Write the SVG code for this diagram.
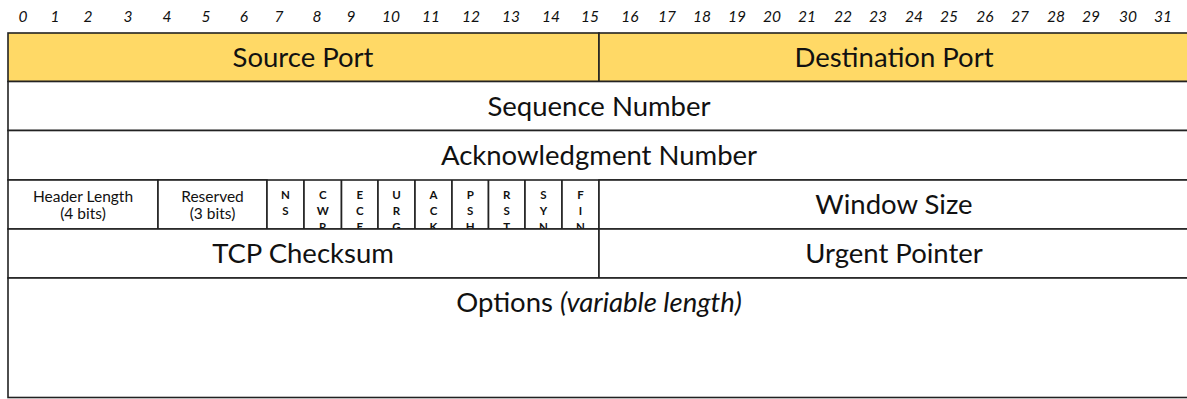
<svg xmlns="http://www.w3.org/2000/svg" width="1187" height="399" viewBox="0 0 1187 399">
  <style>
    .bit { font-family: Lato, "Open Sans", sans-serif; font-style: italic; font-size: 15.5px; fill: #111; text-anchor: middle; }
    .lbl { font-family: Lato, "Open Sans", sans-serif; font-size: 27.5px; fill: #111; text-anchor: middle; }
    .sm { font-family: Lato, "Open Sans", sans-serif; font-size: 15.5px; fill: #111; text-anchor: middle; }
    .flag { font-family: Lato, "Open Sans", sans-serif; font-size: 11.5px; font-weight: bold; fill: #111; text-anchor: middle; }
    .cell { fill: #ffffff; stroke: #222; stroke-width: 1.6; }
    .hdr { fill: #ffd966; stroke: #222; stroke-width: 1.6; }
  </style>
  <defs>
    <clipPath id="flagRow">
      <rect x="8" y="180" width="592" height="49"/>
    </clipPath>
  </defs>

  <!-- bit ruler -->
  <g id="ruler">
    <text class="bit" x="23" y="22">0</text>
    <text class="bit" x="55" y="22">1</text>
    <text class="bit" x="88" y="22">2</text>
    <text class="bit" x="128" y="22">3</text>
    <text class="bit" x="167" y="22">4</text>
    <text class="bit" x="206" y="22">5</text>
    <text class="bit" x="244" y="22">6</text>
    <text class="bit" x="279" y="22">7</text>
    <text class="bit" x="317" y="22">8</text>
    <text class="bit" x="351" y="22">9</text>
    <text class="bit" x="391" y="22">10</text>
    <text class="bit" x="431" y="22">11</text>
    <text class="bit" x="471" y="22">12</text>
    <text class="bit" x="511" y="22">13</text>
    <text class="bit" x="551" y="22">14</text>
    <text class="bit" x="590" y="22">15</text>
    <text class="bit" x="630" y="22">16</text>
    <text class="bit" x="667" y="22">17</text>
    <text class="bit" x="702" y="22">18</text>
    <text class="bit" x="737" y="22">19</text>
    <text class="bit" x="772" y="22">20</text>
    <text class="bit" x="807" y="22">21</text>
    <text class="bit" x="843" y="22">22</text>
    <text class="bit" x="878" y="22">23</text>
    <text class="bit" x="914" y="22">24</text>
    <text class="bit" x="949" y="22">25</text>
    <text class="bit" x="985" y="22">26</text>
    <text class="bit" x="1020" y="22">27</text>
    <text class="bit" x="1056" y="22">28</text>
    <text class="bit" x="1091" y="22">29</text>
    <text class="bit" x="1128" y="22">30</text>
    <text class="bit" x="1163" y="22">31</text>
  </g>

  <!-- row 1: ports -->
  <g id="source-port">
    <rect class="hdr" x="8" y="33" width="591" height="48.5"/>
    <text class="lbl" x="303" y="67">Source Port</text>
  </g>
  <g id="destination-port">
    <rect class="hdr" x="599" y="33" width="600" height="48.5"/>
    <text class="lbl" x="894" y="67">Destination Port</text>
  </g>

  <!-- row 2 -->
  <g id="sequence-number">
    <rect class="cell" x="8" y="81.5" width="1191" height="49"/>
    <text class="lbl" x="599" y="116">Sequence Number</text>
  </g>

  <!-- row 3 -->
  <g id="ack-number">
    <rect class="cell" x="8" y="130.5" width="1191" height="49.5"/>
    <text class="lbl" x="599" y="165">Acknowledgment Number</text>
  </g>

  <!-- row 4: header length, reserved, flags, window -->
  <g id="header-length">
    <rect class="cell" x="8" y="180" width="150" height="49"/>
    <text class="sm" x="83" y="201.5">Header Length</text>
    <text class="sm" x="83" y="219">(4 bits)</text>
  </g>
  <g id="reserved">
    <rect class="cell" x="158" y="180" width="109" height="49"/>
    <text class="sm" x="212.5" y="201.5">Reserved</text>
    <text class="sm" x="212.5" y="219">(3 bits)</text>
  </g>
  <!-- one-bit flags, letters stacked and clipped at the row edge -->
  <g id="flags" clip-path="url(#flagRow)">
    <g id="flag-ns">
      <rect class="cell" x="267" y="180" width="37" height="49"/>
      <text class="flag" x="285.5" y="198.5">N</text>
      <text class="flag" x="285.5" y="214.5">S</text>
    </g>
    <g id="flag-cwr">
      <rect class="cell" x="304" y="180" width="37.5" height="49"/>
      <text class="flag" x="322.7" y="198.5">C</text>
      <text class="flag" x="322.7" y="214.5">W</text>
      <text class="flag" x="322.7" y="231">R</text>
    </g>
    <g id="flag-ece">
      <rect class="cell" x="341.5" y="180" width="36.5" height="49"/>
      <text class="flag" x="359.7" y="198.5">E</text>
      <text class="flag" x="359.7" y="214.5">C</text>
      <text class="flag" x="359.7" y="231">E</text>
    </g>
    <g id="flag-urg">
      <rect class="cell" x="378" y="180" width="37" height="49"/>
      <text class="flag" x="396.5" y="198.5">U</text>
      <text class="flag" x="396.5" y="214.5">R</text>
      <text class="flag" x="396.5" y="231">G</text>
    </g>
    <g id="flag-ack">
      <rect class="cell" x="415" y="180" width="37" height="49"/>
      <text class="flag" x="433.5" y="198.5">A</text>
      <text class="flag" x="433.5" y="214.5">C</text>
      <text class="flag" x="433.5" y="231">K</text>
    </g>
    <g id="flag-psh">
      <rect class="cell" x="452" y="180" width="36.5" height="49"/>
      <text class="flag" x="470.2" y="198.5">P</text>
      <text class="flag" x="470.2" y="214.5">S</text>
      <text class="flag" x="470.2" y="231">H</text>
    </g>
    <g id="flag-rst">
      <rect class="cell" x="488.5" y="180" width="36.5" height="49"/>
      <text class="flag" x="506.7" y="198.5">R</text>
      <text class="flag" x="506.7" y="214.5">S</text>
      <text class="flag" x="506.7" y="231">T</text>
    </g>
    <g id="flag-syn">
      <rect class="cell" x="525" y="180" width="37" height="49"/>
      <text class="flag" x="543.5" y="198.5">S</text>
      <text class="flag" x="543.5" y="214.5">Y</text>
      <text class="flag" x="543.5" y="231">N</text>
    </g>
    <g id="flag-fin">
      <rect class="cell" x="562" y="180" width="37" height="49"/>
      <text class="flag" x="580.5" y="198.5">F</text>
      <text class="flag" x="580.5" y="214.5">I</text>
      <text class="flag" x="580.5" y="231">N</text>
    </g>
  </g>
  <g id="window-size">
    <rect class="cell" x="599" y="180" width="600" height="49"/>
    <text class="lbl" x="894" y="214">Window Size</text>
  </g>

  <!-- row 5 -->
  <g id="tcp-checksum">
    <rect class="cell" x="8" y="229" width="591" height="49"/>
    <text class="lbl" x="303" y="263">TCP Checksum</text>
  </g>
  <g id="urgent-pointer">
    <rect class="cell" x="599" y="229" width="600" height="49"/>
    <text class="lbl" x="894" y="263">Urgent Pointer</text>
  </g>

  <!-- row 6: options -->
  <g id="options">
    <rect class="cell" x="8" y="278" width="1191" height="119.5"/>
    <text class="lbl" x="599" y="311.5">Options <tspan font-style="italic">(variable length)</tspan></text>
  </g>
</svg>
